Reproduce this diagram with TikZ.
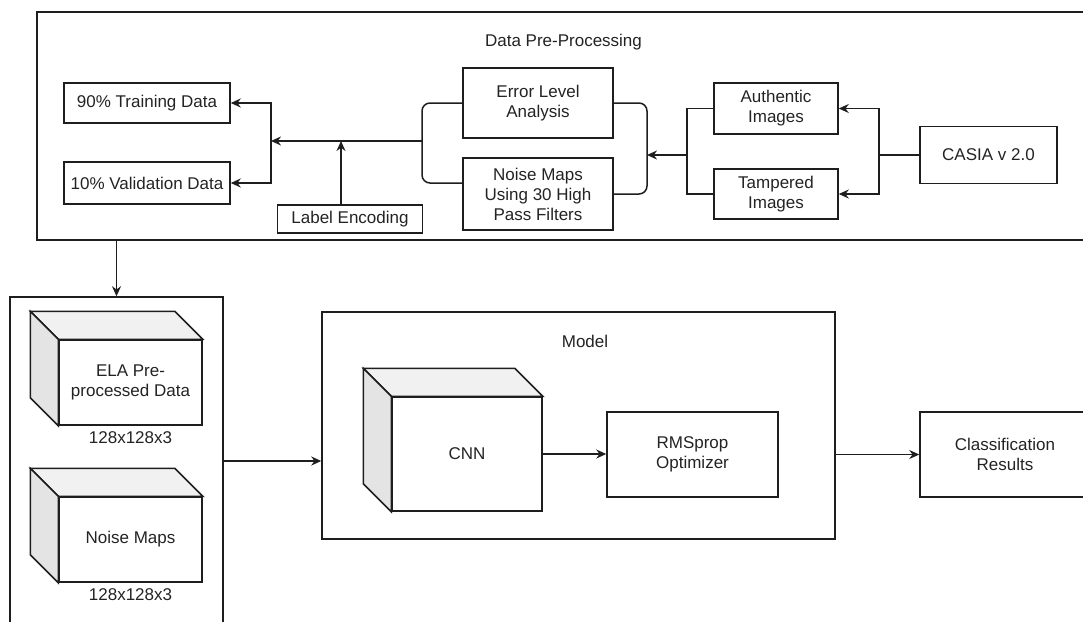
\documentclass[tikz,border=0pt]{standalone}
\usepackage{fontspec}
\setmainfont{Liberation Sans}
\usetikzlibrary{positioning, calc, arrows.meta}
\definecolor{linegray}{RGB}{30,30,30}
\definecolor{textgray}{RGB}{35,35,35}
\definecolor{cubetop}{RGB}{241,241,241}
\definecolor{cubeside}{RGB}{228,228,228}

\begin{document}
\begin{tikzpicture}[x=1pt, y=-1pt,
  font=\fontsize{17}{20}\selectfont,
  every node/.style={text=textgray},
  box/.style={draw=linegray, line width=1.5pt, align=center, inner sep=2pt},
  frame/.style={draw=linegray, line width=1.5pt, inner sep=0pt},
  link/.style={draw=linegray, line width=1.5pt},
  arr/.style={draw=linegray, line width=1.5pt, -{Stealth[length=10pt, width=9pt]}},
  cubeface/.style={draw=linegray, line width=1.5pt, line join=miter}]
  \useasboundingbox (0,0) rectangle (1083,621);
  \clip (0,0) rectangle (1083,621);

  % data pre-processing
  \node[frame, minimum width=1053pt, minimum height=228pt] (prep) at (563.5,126) {};
  \node (preptitle) at (563.5,42) {Data Pre-Processing};
  \node[box, minimum width=166pt, minimum height=40pt] (train) at (147,103) {90\% Training Data};
  \node[box, minimum width=166pt, minimum height=42pt] (valid) at (147,183) {10\% Validation Data};
  \node[box, minimum width=145pt, minimum height=28pt] (labelenc) at (350,219) {Label Encoding};
  \node[box, minimum width=150pt, minimum height=70pt] (ela) at (538,103) {Error Level\\Analysis};
  \node[box, minimum width=150pt, minimum height=72pt] (noise) at (538,194) {Noise Maps\\Using 30 High\\Pass Filters};
  \node[box, minimum width=124pt, minimum height=51pt] (auth) at (776,108.5) {Authentic\\Images};
  \node[box, minimum width=124pt, minimum height=50pt] (tamp) at (776,194) {Tampered\\Images};
  \node[box, minimum width=137pt, minimum height=57pt] (casia) at (988.5,155) {CASIA v 2.0};

  \coordinate (fork) at (879,155);
  \coordinate (gather) at (687,155);
  \coordinate (bracketR) at (647,155);
  \coordinate (bracketL) at (422,141);
  \coordinate (join) at (271,141);
  \draw[link] (casia.west) -- (fork);
  \draw[arr] (fork) |- (auth.east);
  \draw[arr] (fork) |- (tamp.east);
  \draw[link] (auth.west) -| (gather) |- (tamp.west);
  \draw[arr] (gather) -- (bracketR);
  \draw[link, rounded corners=8pt] (ela.east) -| (bracketR) |- (noise.east);
  \draw[link, rounded corners=8pt] (ela.west) -| (bracketL) |- ([yshift=11pt]noise.west);
  \draw[arr] (bracketL) -- (join);
  \draw[arr] (join) |- (train.east);
  \draw[arr] (join) |- (valid.east);
  \draw[arr] ([xshift=-9pt]labelenc.north) -- ([xshift=-9pt]labelenc.north |- join);

  % inputs
  \node[frame, minimum width=213pt, minimum height=328pt] (inputs) at (116.5,461) {};
  \draw[arr] (prep.south -| inputs.north) -- (inputs.north);
  \node[box, minimum width=143pt, minimum height=85pt] (elacube) at (130.5,382.5) {ELA Pre-\\processed Data};
  \node[below=2pt of elacube] (elasize) {128x128x3};
  \node[box, minimum width=143pt, minimum height=85pt] (noisecube) at (130.5,539.5) {Noise Maps};
  \node[below=2pt of noisecube] (noisesize) {128x128x3};

  % model
  \node[frame, minimum width=513pt, minimum height=227pt] (model) at (578.5,425.5) {};
  \node (modeltitle) at (585,341) {Model};
  \node[box, minimum width=150pt, minimum height=114pt] (cnncube) at (467,454) {CNN};
  \node[box, minimum width=171pt, minimum height=85pt] (rms) at (692.5,454.5) {RMSprop\\Optimizer};
  \node[box, minimum width=170pt, minimum height=85pt] (result) at (1005,454.5) {Classification\\Results};

  % cube faces
  \foreach \c in {elacube, noisecube, cnncube} {
    \draw[cubeface, fill=cubetop] (\c.north west) -- ++(-28,-28)
      -- ($(\c.north east)+(-28,-28)$) -- (\c.north east) -- cycle;
    \draw[cubeface, fill=cubeside] (\c.north west) -- ++(-28,-28)
      -- ($(\c.south west)+(-28,-28)$) -- (\c.south west) -- cycle;
  }

  \draw[arr] (inputs.east) -- (inputs.east -| model.west);
  \draw[arr] (cnncube.east) -- (cnncube.east -| rms.west);
  \draw[arr] (model.east |- result.west) -- (result.west);
\end{tikzpicture}
\end{document}
